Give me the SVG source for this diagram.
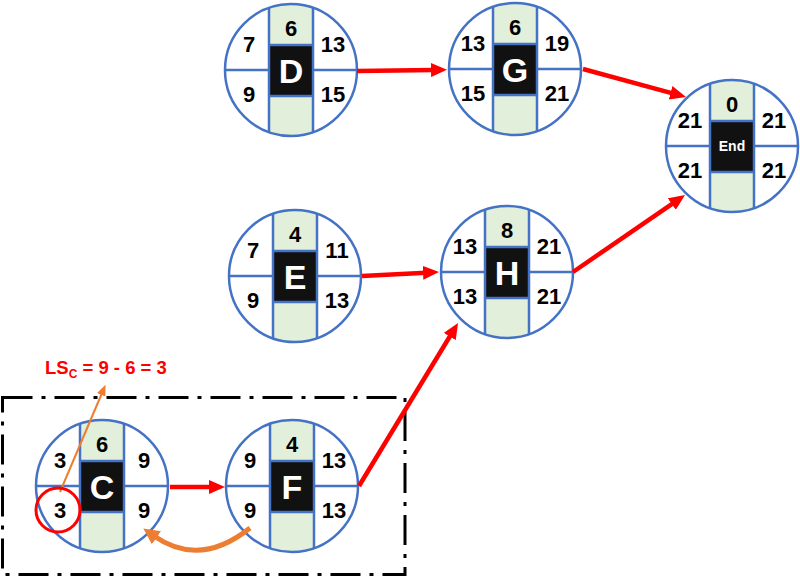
<svg xmlns="http://www.w3.org/2000/svg" xmlns:xlink="http://www.w3.org/1999/xlink" width="800" height="579" viewBox="0 0 800 579">
<style>
.num{font-family:"Liberation Sans",Arial,sans-serif;font-weight:bold;font-size:22px;text-anchor:middle;fill:#000}
.lbl{font-family:"Liberation Sans",Arial,sans-serif;font-weight:bold;font-size:34px;text-anchor:middle;fill:#fff}
.lblsm{font-family:"Liberation Sans",Arial,sans-serif;font-weight:bold;font-size:14px;text-anchor:middle;fill:#fff}
.bl{stroke:#4472C4;stroke-width:2.5;fill:none}
.red{stroke:#FF0000;stroke-width:4.5;fill:none}
.ann{font-family:"Liberation Sans",Arial,sans-serif;font-weight:bold;font-size:18.5px;fill:#FF0000}
</style>
<defs>
<clipPath id="cc"><circle cx="0" cy="0" r="66"/></clipPath>
<g id="nodeBase">
<circle cx="0" cy="0" r="66" fill="#fff"/>
<rect x="-22" y="-66" width="44" height="132" fill="#E2EFDA" clip-path="url(#cc)"/>
<rect x="-22" y="-25" width="44" height="51" fill="#111"/>
<path class="bl" d="M-22,-62.3V62.3M22,-62.3V62.3M-66,0H-22M22,0H66M-22,-25H22M-22,26H22"/>
<circle class="bl" cx="0" cy="0" r="66"/>
</g>
<marker id="ar" markerUnits="userSpaceOnUse" markerWidth="16" markerHeight="14" refX="3" refY="7" orient="auto">
<path d="M0,0L16,7L0,14z" fill="#FF0000"/>
</marker>
<marker id="ao" markerUnits="userSpaceOnUse" markerWidth="16" markerHeight="16" refX="3" refY="8" orient="auto">
<path d="M0,0L16,8L0,16z" fill="#ED7D31"/>
</marker>
<marker id="aos" markerUnits="userSpaceOnUse" markerWidth="11" markerHeight="9" refX="2" refY="4.5" orient="auto">
<path d="M0,0L11,4.5L0,9z" fill="#ED7D31"/>
</marker>
</defs>
<rect x="2.5" y="397.5" width="402.5" height="177" fill="none" stroke="#000" stroke-width="3" stroke-dasharray="30 9 4 9"/>
<g id="nodeD" transform="translate(291,70)">
<use xlink:href="#nodeBase"/>
<text class="num" x="0" y="-34">6</text><text class="num" x="-42" y="-18">7</text><text class="num" x="42" y="-18">13</text>
<text class="num" x="-42" y="32">9</text><text class="num" x="42" y="32">15</text>
<text class="lbl" x="0" y="13">D</text>
</g>
<g id="nodeG" transform="translate(515,69)">
<use xlink:href="#nodeBase"/>
<text class="num" x="0" y="-34">6</text><text class="num" x="-42" y="-18">13</text><text class="num" x="42" y="-18">19</text>
<text class="num" x="-42" y="32">15</text><text class="num" x="42" y="32">21</text>
<text class="lbl" x="0" y="13">G</text>
</g>
<g id="nodeEnd" transform="translate(732,146)">
<use xlink:href="#nodeBase"/>
<text class="num" x="0" y="-34">0</text><text class="num" x="-42" y="-18">21</text><text class="num" x="42" y="-18">21</text>
<text class="num" x="-42" y="32">21</text><text class="num" x="42" y="32">21</text>
<text class="lblsm" x="0" y="5">End</text>
</g>
<g id="nodeE" transform="translate(295,276)">
<use xlink:href="#nodeBase"/>
<text class="num" x="0" y="-34">4</text><text class="num" x="-42" y="-18">7</text><text class="num" x="42" y="-18">11</text>
<text class="num" x="-42" y="32">9</text><text class="num" x="42" y="32">13</text>
<text class="lbl" x="0" y="13">E</text>
</g>
<g id="nodeH" transform="translate(507,272)">
<use xlink:href="#nodeBase"/>
<text class="num" x="0" y="-34">8</text><text class="num" x="-42" y="-18">13</text><text class="num" x="42" y="-18">21</text>
<text class="num" x="-42" y="32">13</text><text class="num" x="42" y="32">21</text>
<text class="lbl" x="0" y="13">H</text>
</g>
<g id="nodeC" transform="translate(102,486)">
<use xlink:href="#nodeBase"/>
<text class="num" x="0" y="-34">6</text><text class="num" x="-42" y="-18">3</text><text class="num" x="42" y="-18">9</text>
<text class="num" x="-42" y="32">3</text><text class="num" x="42" y="32">9</text>
<text class="lbl" x="0" y="13">C</text>
</g>
<g id="nodeF" transform="translate(292,486)">
<use xlink:href="#nodeBase"/>
<text class="num" x="0" y="-34">4</text><text class="num" x="-42" y="-18">9</text><text class="num" x="42" y="-18">13</text>
<text class="num" x="-42" y="32">9</text><text class="num" x="42" y="32">13</text>
<text class="lbl" x="0" y="13">F</text>
</g>
<g id="connectors">
<path class="red" d="M357,71L434,70" marker-end="url(#ar)"/>
<path class="red" d="M583,69L673.5,93.6" marker-end="url(#ar)"/>
<path class="red" d="M362,276L426,272.7" marker-end="url(#ar)"/>
<path class="red" d="M573,272L674.3,202.4" marker-end="url(#ar)"/>
<path class="red" d="M170,487L212,487" marker-end="url(#ar)"/>
<path class="red" d="M359,486L451.3,334" marker-end="url(#ar)"/>
<path d="M250,528Q200,568 154,536" fill="none" stroke="#ED7D31" stroke-width="5" marker-end="url(#ao)"/>
<path d="M60,492L102,393" fill="none" stroke="#ED7D31" stroke-width="2" marker-end="url(#aos)"/>
</g>
<g id="annotation">
<circle cx="58" cy="510" r="22" fill="none" stroke="#FF0000" stroke-width="3"/>
<text class="ann" x="45" y="374">LS<tspan font-size="12" dy="4">C</tspan><tspan dy="-4"> = 9 - 6 = 3</tspan></text>
</g>
</svg>
